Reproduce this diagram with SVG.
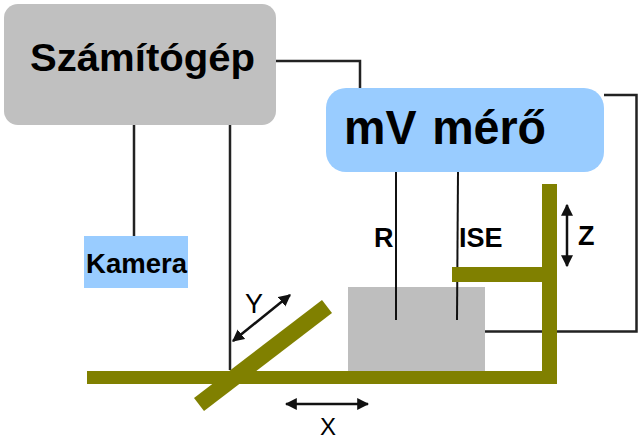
<svg xmlns="http://www.w3.org/2000/svg" width="642" height="440" viewBox="0 0 642 440">
<defs>
<marker id="ah" viewBox="0 0 10 10" refX="9" refY="5" markerWidth="12" markerHeight="13" markerUnits="userSpaceOnUse" orient="auto-start-reverse"><path d="M0 0L10 5L0 10z" fill="#111"/></marker>
</defs>
<style>
text{font-family:"Liberation Sans",Arial,sans-serif;font-weight:bold;fill:#000}
.c{fill:none;stroke:#222;stroke-width:2.5}
.e{fill:none;stroke:#111;stroke-width:2}
.o{fill:#808000}
.a{fill:none;stroke:#111;stroke-width:2.5;marker-start:url(#ah);marker-end:url(#ah)}
.l{font-size:27px}
.m{font-weight:normal}
</style>
<rect width="642" height="440" fill="#fff"/>
<g id="connectors">
<path class="c" d="M276 61H360V88"/>
<path class="c" d="M134 125V237"/>
<path class="c" d="M230 125V370"/>
<path class="c" d="M604 95H636.500V331.500H485"/>
</g>
<g id="vessel"><rect x="348" y="287" width="137" height="86" fill="#bebebe"/></g>
<g id="electrodes">
<path class="e" d="M396 172V320"/>
<path class="e" d="M458 172L457 320"/>
</g>
<g id="computer">
<rect x="4" y="4" width="272" height="121" rx="14" fill="#c0c0c0"/>
<text x="30" y="71" font-size="38" textLength="225" lengthAdjust="spacingAndGlyphs">Számítógép</text>
</g>
<g id="meter">
<rect x="326" y="88" width="278" height="84" rx="20" fill="#99ccff"/>
<text x="344" y="144" font-size="49" word-spacing="3" textLength="202" lengthAdjust="spacingAndGlyphs">mV mérő</text>
</g>
<g id="camera">
<rect x="84" y="236" width="104" height="52" fill="#99ccff"/>
<text x="86" y="273" font-size="28" textLength="101" lengthAdjust="spacingAndGlyphs">Kamera</text>
</g>
<g id="stage">
<rect class="o" x="87" y="371" width="469" height="13"/>
<rect class="o" x="542" y="184" width="15" height="200"/>
<rect class="o" x="452" y="267" width="90" height="15"/>
<path class="o" d="M194 398L322 300L332 313L204 411z"/>
</g>
<g id="arrows">
<path class="a" d="M233 341L290 295"/>
<path class="a" d="M286 404H368"/>
<path class="a" d="M567 205V266"/>
</g>
<g id="labels">
<text class="l" x="374" y="247">R</text>
<text class="l" x="459" y="247">ISE</text>
<text class="l" x="578" y="245">Z</text>
<text class="l m" x="245" y="313">Y</text>
<text class="m" font-size="24" x="320" y="434.500">X</text>
</g>
</svg>
